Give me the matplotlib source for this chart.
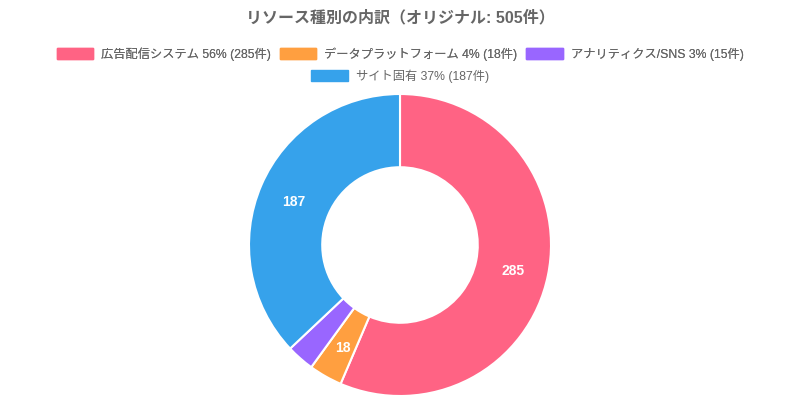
import matplotlib
matplotlib.use("Agg")
import matplotlib.pyplot as plt
from matplotlib.patches import Patch
import numpy as np

plt.rcParams['font.family'] = ['Liberation Sans', 'Noto Sans CJK JP', 'DejaVu Sans']

# data
labels = ["広告配信システム", "データプラットフォーム", "アナリティクス/SNS", "サイト固有"]
counts = [285, 18, 15, 187]
colors = ["#FF6384", "#FF9F40", "#9966FF", "#36A2EB"]
total = sum(counts)

fig = plt.figure(figsize=(8, 4), dpi=100)

# pie axes: centre (400,245) px, radius ~151 px
ax = fig.add_axes([0.31125, 0.01, 0.3775, 0.755])
wedges, _ = ax.pie(counts, colors=colors, startangle=90, counterclock=False,
                   radius=1.0, wedgeprops=dict(width=0.485, edgecolor="white", linewidth=1.5))
ax.set_xlim(-1, 1)
ax.set_ylim(-1, 1)
ax.set_aspect("equal")
ax.axis("off")

# value labels in the ring (skip tiny slices)
ang = 90.0
for c in counts:
    span = c / total * 360
    mid = np.deg2rad(ang - span / 2)
    ang -= span
    if c / total < 0.035:
        continue
    r = 0.765
    ax.text(r * np.cos(mid), r * np.sin(mid) - 0.02, str(c), ha="center", va="center",
            color="white", fontsize=10, fontweight="bold")

fig.text(0.5, 1 - 18 / 400, "リソース種別の内訳（オリジナル: 505件）", ha="center", va="center",
         fontsize=11.5, fontweight="bold", color="#666666")

handles = [Patch(facecolor=c, edgecolor=c) for c in colors]
texts = [f"{l} {round(c / total * 100)}% ({c}件)" for l, c in zip(labels, counts)]

kw = dict(loc="center", frameon=False, fontsize=8.8, handlelength=3.0, handleheight=0.9,
          handletextpad=0.65, labelcolor="#666666")
leg1 = fig.legend(handles[:3], texts[:3], bbox_to_anchor=(0.5, 1 - 54 / 400),
                  ncol=3, columnspacing=0.7, **kw)
leg2 = fig.legend(handles[3:], texts[3:], bbox_to_anchor=(0.5, 1 - 76 / 400), ncol=1, **kw)
fig.add_artist(leg1)

fig.savefig("out.png", dpi=100)
